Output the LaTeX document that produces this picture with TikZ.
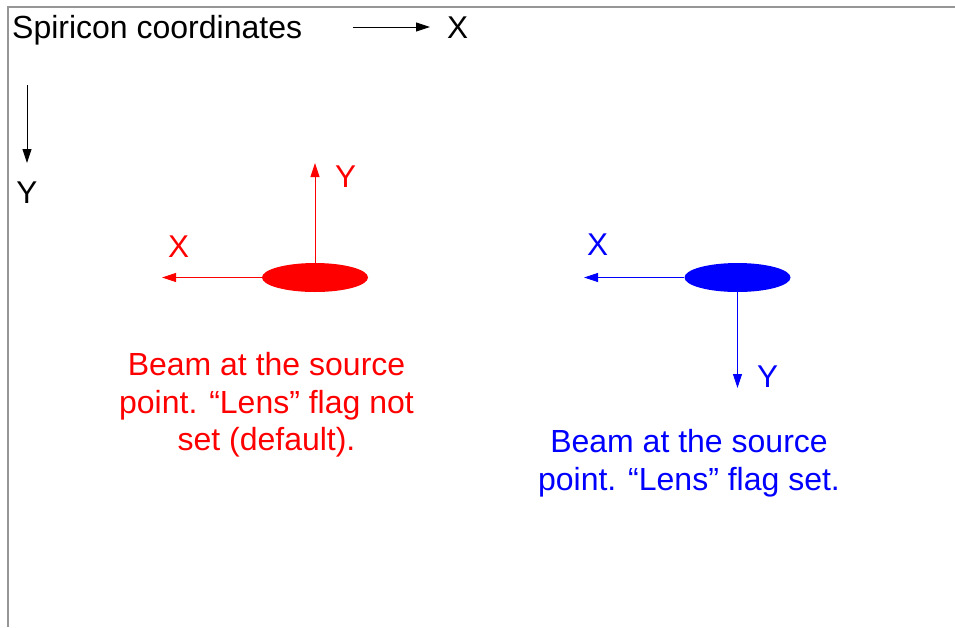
\documentclass[tikz,border=0pt]{standalone}
\usepackage{fontspec}
\setmainfont{Liberation Sans}
\usepackage{tikz}
\usetikzlibrary{shapes.geometric, arrows.meta, positioning}
\definecolor{beamred}{RGB}{255,0,0}
\definecolor{beamblue}{RGB}{0,0,255}
\definecolor{framegray}{RGB}{150,150,150}
\tikzset{
  beam/.style={
    ellipse, inner sep=0pt,
    minimum width=106pt, minimum height=29pt
  },
  axis/.style={line width=0.9pt, -{Triangle[length=14pt,width=9pt]}},
  axislabel/.style={
    inner sep=0pt, anchor=base west,
    font=\fontsize{31.5}{37}\selectfont
  },
  caption/.style={
    inner sep=0pt, align=center,
    font=\fontsize{32}{37.5}\selectfont
  },
}

\begin{document}
\begin{tikzpicture}[x=1pt, y=-1pt]
  \useasboundingbox (0,0) rectangle (955,627);
  \draw [framegray, line width=1.5pt] (8,627) -- (8,7) -- (955,7);

  % camera axes
  \node (title) [axislabel, font=\fontsize{32}{37}\selectfont] at (12,38) {Spiricon coordinates};
  \coordinate (camx0) at (353,27);
  \coordinate (camx1) at (430,27);
  \node (camxlab) [axislabel] at (447,38) {X};
  \coordinate (camy0) at (27,85);
  \coordinate (camy1) at (27,163);
  \node (camylab) [axislabel, anchor=base] at (27,203) {Y};
  \draw [axis] (camx0) -- (camx1);
  \draw [axis] (camy0) -- (camy1);

  % lens flag not set
  \node (redbeam) [beam, fill=beamred] at (315,277.5) {};
  \coordinate (redx) at (162,277.5);
  \coordinate (redy) at (315,163);
  \node (redxlab) [axislabel, beamred] at (168,257) {X};
  \node (redylab) [axislabel, beamred] at (335,187) {Y};
  \draw [axis, beamred] (redbeam.west)  -- (redx);
  \draw [axis, beamred] (redbeam.north) -- (redy);
  \node (redtext) [caption, beamred] at (266.5,405)
    {Beam at the source\\point. “Lens” flag not\\set (default).};

  % lens flag set
  \node (bluebeam) [beam, fill=beamblue] at (737.5,277.5) {};
  \coordinate (bluex) at (584,277.5);
  \coordinate (bluey) at (737.5,388);
  \node (bluexlab) [axislabel, beamblue] at (587,255) {X};
  \node (blueylab) [axislabel, beamblue] at (757,387) {Y};
  \draw [axis, beamblue] (bluebeam.west)  -- (bluex);
  \draw [axis, beamblue] (bluebeam.south) -- (bluey);
  \node (bluetext) [caption, beamblue] at (689,463)
    {Beam at the source\\point. “Lens” flag set.};
\end{tikzpicture}
\end{document}
